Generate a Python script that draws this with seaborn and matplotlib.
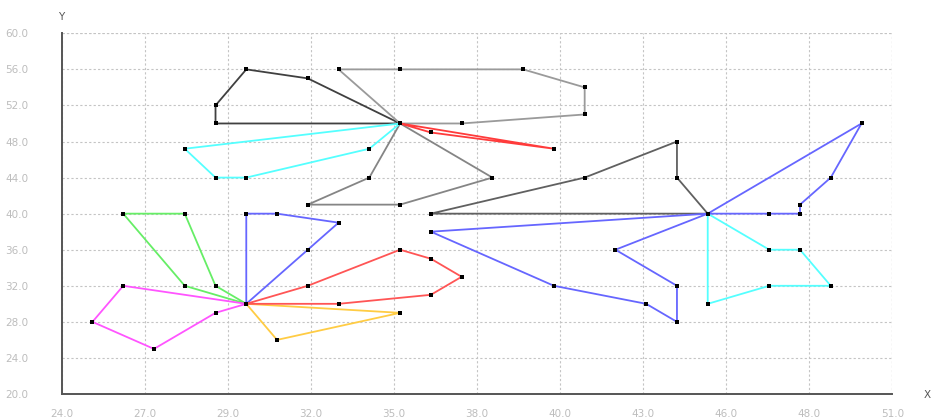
import numpy as np
import pandas as pd
import matplotlib
matplotlib.use("Agg")
import matplotlib.pyplot as plt
import seaborn as sns

# Depots
depot_a = (35, 50)
depot_b = (45, 40)
depot_c = (30, 30)

# Vehicle routes: ordered stops, each loop starts and ends at its depot
route_black = [depot_a, (32, 55), (30, 56), (29, 52), (29, 50), depot_a]
route_silver = [depot_a, (33, 56), (35, 56), (39, 56), (41, 54), (41, 51), (37, 50), depot_a]
route_red_a = [depot_a, (36, 49), (40, 47.2), depot_a]
route_cyan_a = [depot_a, (28, 47.2), (29, 44), (30, 44), (34, 47.2), depot_a]
route_gray = [depot_a, (34, 44), (32, 41), (35, 41), (38, 44), depot_a]
route_dark = [depot_b, (44, 44), (44, 48), (41, 44), (36, 40), depot_b]
route_blue_b1 = [depot_b, (47, 40), (48, 40), (48, 41), (49, 44), (50, 50), depot_b]
route_blue_b2 = [depot_b, (42, 36), (44, 32), (44, 28), (43, 30), (40, 32), (36, 38), depot_b]
route_cyan_b = [depot_b, (47, 36), (48, 36), (49, 32), (47, 32), (45, 30), depot_b]
route_green = [depot_c, (29, 32), (28, 40), (26, 40), (28, 32), depot_c]
route_blue_c = [depot_c, (30, 40), (31, 40), (33, 39), (32, 36), depot_c]
route_red_c = [depot_c, (32, 32), (35, 36), (36, 35), (37, 33), (36, 31), (33, 30), depot_c]
route_gold = [depot_c, (35, 29), (31, 26), depot_c]
route_magenta = [depot_c, (29, 29), (27, 25), (25, 28), (26, 32), depot_c]

routes = {
    "black": route_black,
    "silver": route_silver,
    "gray": route_gray,
    "dark": route_dark,
    "cyan_a": route_cyan_a,
    "cyan_b": route_cyan_b,
    "green": route_green,
    "magenta": route_magenta,
    "gold": route_gold,
    "blue_b1": route_blue_b1,
    "blue_b2": route_blue_b2,
    "blue_c": route_blue_c,
    "red_c": route_red_c,
    "red_a": route_red_a,
}

route_colors = {
    "black": "#404040",
    "silver": "#9a9a9a",
    "gray": "#858585",
    "dark": "#606060",
    "cyan_a": "#55ffff",
    "cyan_b": "#55ffff",
    "green": "#66ee66",
    "magenta": "#ff55ff",
    "gold": "#ffcc44",
    "blue_b1": "#6666ff",
    "blue_b2": "#6666ff",
    "blue_c": "#6666ff",
    "red_c": "#ff5555",
    "red_a": "#ff3b3b",
}

x_tick_labels = ["24.0", "27.0", "29.0", "32.0", "35.0", "38.0",
                 "40.0", "43.0", "46.0", "48.0", "51.0"]
y_tick_labels = ["20.0", "24.0", "28.0", "32.0", "36.0", "40.0",
                 "44.0", "48.0", "52.0", "56.0", "60.0"]

rows = []
for name, stops in routes.items():
    for i, (x, y) in enumerate(stops):
        rows.append({"route": name, "step": i, "x": x, "y": y})
df = pd.DataFrame(rows)
stops_df = df.drop_duplicates(subset=["x", "y"])

sns.set_theme(style="white")
plt.rcParams["font.family"] = ["DejaVu Sans"]

fig = plt.figure(figsize=(9.33, 4.18), dpi=100)
ax = fig.add_axes([61.7 / 933, 1 - 394 / 418, (892.3 - 61.7) / 933, (394 - 33.3) / 418])

sns.lineplot(data=df, x="x", y="y", hue="route", palette=route_colors,
             sort=False, estimator=None, legend=False, linewidth=1.3, ax=ax)
sns.scatterplot(data=stops_df, x="x", y="y", color="black", marker="s",
                s=10, linewidth=0, zorder=5, ax=ax)

ax.set_xlim(24, 51)
ax.set_ylim(20, 60)
ax.set_xticks(np.linspace(24, 51, 11))
ax.set_xticklabels(x_tick_labels)
ax.set_yticks(np.linspace(20, 60, 11))
ax.set_yticklabels(y_tick_labels)
ax.set_xlabel("")
ax.set_ylabel("")

ax.grid(True, color="#c4c4c4", linestyle=(0, (2, 2)), linewidth=0.8)
ax.set_axisbelow(True)
for side in ("top", "right"):
    ax.spines[side].set_visible(False)
for side in ("left", "bottom"):
    ax.spines[side].set_color("#555555")
    ax.spines[side].set_linewidth(1.4)

ax.tick_params(axis="both", length=0, labelsize=7.5, labelcolor="#bdbdbd")
ax.tick_params(axis="y", pad=24)
ax.tick_params(axis="x", pad=11)

# Outer grid edges (top and right)
ax.axhline(60, color="#c4c4c4", linestyle=(0, (2, 2)), linewidth=0.8, zorder=0)
ax.axvline(51, color="#c4c4c4", linestyle=(0, (2, 2)), linewidth=0.8, zorder=0)

fig.text(61.5 / 933, 1 - 16.5 / 418, "Y", ha="center", va="center",
         fontsize=7.5, color="#555555")
fig.text(931 / 933, 1 - 395 / 418, "X", ha="right", va="center",
         fontsize=7.5, color="#555555")

fig.savefig("out.png", dpi=100)
